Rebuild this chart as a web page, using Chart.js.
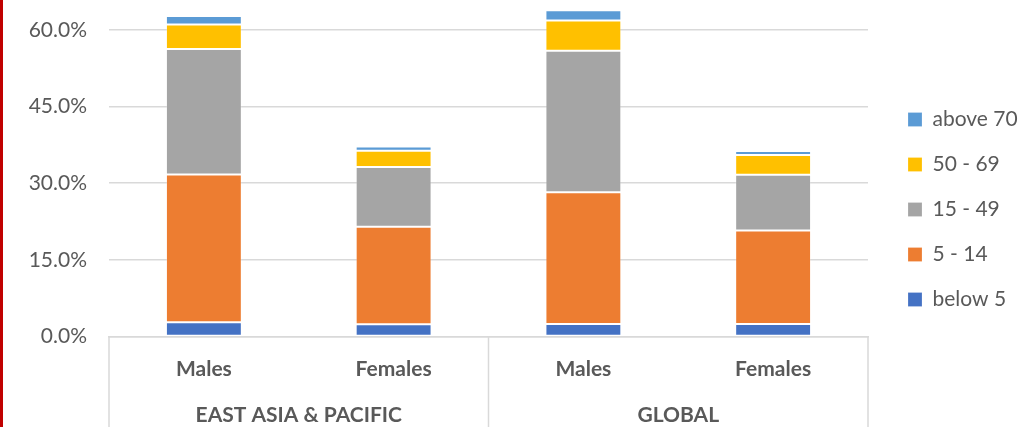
<!DOCTYPE html>
<html>
<head>
<meta charset="utf-8">
<script src="https://cdn.jsdelivr.net/npm/chart.js@4"></script>
<style>
  html, body { margin: 0; padding: 0; background: #ffffff; }
  #wrap { position: relative; width: 1021px; height: 427px; }
  #edge { position: absolute; left: 0; top: 0; width: 3px; height: 427px; background: #C00000; }
  canvas { display: block; }
</style>
</head>
<body>
<div id="wrap">
  <canvas id="chart" width="1021" height="427"></canvas>
  <div id="edge"></div>
</div>
<script>
// Share of deaths by age group (%), by sex, for two regions
const categories = ['Males', 'Females', 'Males', 'Females'];
const regions = ['EAST ASIA & PACIFIC', 'GLOBAL'];

const below5    = [2.8, 2.4, 2.45, 2.45];
const age5to14  = [28.9, 19.1, 25.8, 18.3];
const age15to49 = [24.6, 11.7, 27.7, 10.9];
const age50to69 = [4.75, 3.15, 5.9, 3.9];
const above70   = [1.7, 0.85, 2.0, 0.75];

const seriesNames = ['below 5', '5 - 14', '15 - 49', '50 - 69', 'above 70'];
const yTicks = [0, 15, 30, 45, 60];
const yMax = 65.87;

const colors = ['#4472C4', '#ED7D31', '#A5A5A5', '#FFC000', '#5B9BD5'];
const FONT = 'Lato';
const TEXT = '#595959';
const GRID = '#D9D9D9';

const seriesValues = [below5, age5to14, age15to49, age50to69, above70];
const datasets = seriesValues.map((vals, i) => ({
  label: seriesNames[i],
  data: vals,
  backgroundColor: colors[i],
  borderColor: 'rgba(255,255,255,0.2)',
  borderWidth: 1,
  borderSkipped: false,
  barPercentage: 0.4,
  categoryPercentage: 1.0
}));

// Vertical separators framing the two region groups under the plot
const groupDividers = {
  id: 'groupDividers',
  afterDraw(chart) {
    const { ctx, chartArea, scales } = chart;
    const x = scales.x;
    const mid = (x.getPixelForValue(1) + x.getPixelForValue(2)) / 2;
    ctx.save();
    ctx.strokeStyle = GRID;
    ctx.lineWidth = 1.5;
    ctx.beginPath();
    [chartArea.left, mid, chartArea.right].forEach(px => {
      ctx.moveTo(px, chartArea.bottom);
      ctx.lineTo(px, chart.height);
    });
    ctx.stroke();
    ctx.restore();
  }
};

new Chart(document.getElementById('chart'), {
  type: 'bar',
  data: { labels: categories, datasets },
  plugins: [groupDividers],
  options: {
    responsive: false,
    animation: false,
    layout: { padding: { left: 0, right: 0, top: 0, bottom: 0 } },
    plugins: {
      tooltip: { enabled: false },
      legend: {
        position: 'right',
        align: 'start',
        reverse: true,
        maxWidth: 137,
        // empty title used only as a top spacer for the legend column
        title: { display: true, text: '', font: { size: 1 }, padding: { top: 83.8, bottom: 0 } },
        labels: {
          boxWidth: 14,
          boxHeight: 14,
          padding: 24,
          color: TEXT,
          font: { family: FONT, size: 21 }
        }
      }
    },
    scales: {
      x: {
        stacked: true,
        position: 'bottom',
        grid: { display: false, drawTicks: false },
        border: { display: true, color: GRID, width: 1.5 },
        ticks: {
          color: TEXT,
          font: { family: FONT, size: 21, weight: 'bold' },
          padding: 19.9,
          autoSkip: false,
          maxRotation: 0
        },
        afterFit(s) { s.height = 41.5; }
      },
      x2: {
        type: 'category',
        labels: regions,
        position: 'bottom',
        offset: true,
        grid: { display: false, drawTicks: false },
        border: { display: false },
        ticks: {
          color: TEXT,
          font: { family: FONT, size: 21, weight: 'bold' },
          padding: 24.4,
          autoSkip: false,
          maxRotation: 0
        },
        afterFit(s) { s.height = 49; }
      },
      y: {
        stacked: true,
        min: 0,
        max: yMax,
        grid: { color: GRID, lineWidth: 1.5, drawTicks: false },
        border: { display: false },
        ticks: {
          color: TEXT,
          font: { family: FONT, size: 21 },
          padding: 22,
          callback: v => v.toFixed(1) + '%'
        },
        afterBuildTicks(s) { s.ticks = yTicks.map(v => ({ value: v })); },
        afterFit(s) { s.width = 109; s.paddingTop = 0; s.paddingBottom = 0; }
      },
      gap: {
        type: 'linear',
        position: 'right',
        display: true,
        grid: { display: false, drawTicks: false },
        border: { display: false },
        ticks: { display: false },
        afterFit(s) { s.width = 16; }
      }
    }
  }
});
</script>
</body>
</html>
